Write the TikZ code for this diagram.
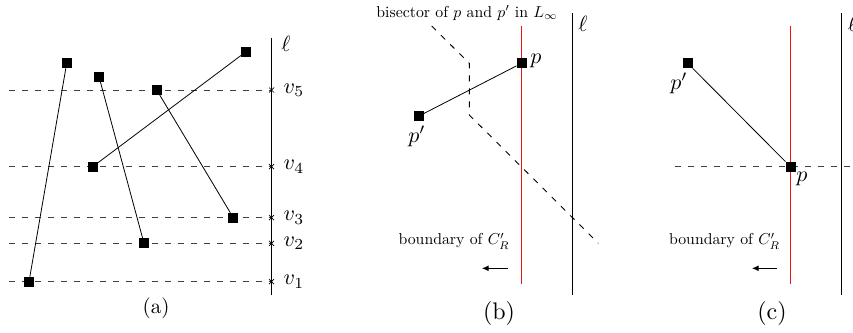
\documentclass[tikz,border=0pt]{standalone}
\usetikzlibrary{arrows.meta}
\definecolor{bndred}{RGB}{235,20,20}
\begin{document}
\begin{tikzpicture}[x=1pt,y=-1pt,
  pt/.style={fill=black,minimum size=10pt,inner sep=0pt,outer sep=0pt},
  seg/.style={line width=0.8pt},
  guide/.style={line width=0.9pt, black!75, dash pattern=on 6pt off 7pt},
  ellline/.style={line width=1.3pt},
  redband/.style={fill=bndred, draw=none},
  lbl/.style={inner sep=0pt, scale=1.58},
  mlbl/.style={inner sep=0pt, scale=2.2},
  subcap/.style={inner sep=0pt, scale=2.1},
  subcapbig/.style={inner sep=0pt, scale=2.4},
  tickmark/.style={line width=0.7pt},
  push/.style={line width=1.5pt, -{Latex[length=7pt,width=6pt]}}]
\useasboundingbox (0,0) rectangle (853,332);

% ---------------- (a) ----------------
\coordinate (ltop) at (271.5,38);
\coordinate (lbot) at (271.5,295);
\foreach \y/\i in {90/5,166.7/4,217.7/3,243.3/2,281.7/1}{
  \coordinate (L\i) at (9,\y);
  \coordinate (R\i) at (271.5,\y);
  \draw[guide] (L\i) -- (R\i);
  \draw[tickmark] ([shift={(-2.5,-2.5)}]R\i) -- ([shift={(2.5,2.5)}]R\i)
                  ([shift={(-2.5,2.5)}]R\i) -- ([shift={(2.5,-2.5)}]R\i);
  \node[mlbl] (v\i) at (294,\y) {$v_{\i}$};
}
\draw[ellline] (ltop) -- (lbot);
\node[mlbl] (ella) at (286,44) {$\ell$};

\node[pt] (A1) at (66.7,63.3) {};
\node[pt] (A2) at (29,281.7) {};
\node[pt] (B1) at (99,76.7) {};
\node[pt] (B2) at (144,243.3) {};
\node[pt] (C1) at (156.7,90) {};
\node[pt] (C2) at (233.3,217.7) {};
\node[pt] (D1) at (92.7,166.7) {};
\node[pt] (D2) at (246,51.7) {};
\draw[seg] (A1) -- (A2);
\draw[seg] (B1) -- (B2);
\draw[seg] (C1) -- (C2);
\draw[seg] (D1) -- (D2);
\node[subcap] (capa) at (156,308.5) {(a)};

% ---------------- (b) ----------------
\coordinate (lbtop) at (572.5,13);
\coordinate (lbbot) at (572.5,295);
\draw[ellline] (lbtop) -- (lbbot);
\node[mlbl] (ellb) at (583,24) {$\ell$};
\coordinate (bs1) at (431.7,26);
\coordinate (bs2) at (469.3,63.3);
\coordinate (bs3) at (469.3,115);
\coordinate (bs4) at (598.3,243.3);
\draw[guide, draw=black] (bs1) -- (bs2) -- (bs3) -- (bs4);
\coordinate (rbtop) at (520.8,26);
\coordinate (rbbot) at (522.2,284);
\fill[redband] (rbtop) rectangle (rbbot);
\node[pt] (pb) at (521.5,63.3) {};
\node[pt] (qb) at (419,116) {};
\draw[seg] (pb) -- (qb);
\node[mlbl] (pbl) at (536,60.5) {$p$};
\node[mlbl] (qbl) at (417,136) {$p'$};
\node[lbl] (bis) at (467,13) {bisector of $p$ and $p'$ in $L_\infty$};
\node[lbl] (bndb) at (454,241) {boundary of $C'_R$};
\coordinate (arbs) at (508.3,268.3);
\coordinate (arbe) at (481.7,268.3);
\draw[push] (arbs) -- (arbe);
\node[subcapbig] (capb) at (499,313.5) {(b)};

% ---------------- (c) ----------------
\coordinate (lctop) at (841.5,13);
\coordinate (lcbot) at (841.5,295);
\coordinate (hcl) at (675,166.7);
\coordinate (hcr) at (853,166.7);
\draw[guide] (hcl) -- (hcr);
\draw[ellline] (lctop) -- (lcbot);
\node[mlbl] (ellc) at (852.5,24) {$\ell$};
\coordinate (rctop) at (789.8,26);
\coordinate (rcbot) at (791.2,284);
\fill[redband] (rctop) rectangle (rcbot);
\node[pt] (pc) at (790.5,166.7) {};
\node[pt] (qc) at (687.7,63.3) {};
\draw[seg] (pc) -- (qc);
\node[mlbl] (pcl) at (802,179) {$p$};
\node[mlbl] (qcl) at (679,83.5) {$p'$};
\node[lbl] (bndc) at (724.5,241) {boundary of $C'_R$};
\coordinate (arcs) at (776.7,268.3);
\coordinate (arce) at (751.7,268.3);
\draw[push] (arcs) -- (arce);
\node[subcapbig] (capc) at (772,313.5) {(c)};
\end{tikzpicture}
\end{document}
